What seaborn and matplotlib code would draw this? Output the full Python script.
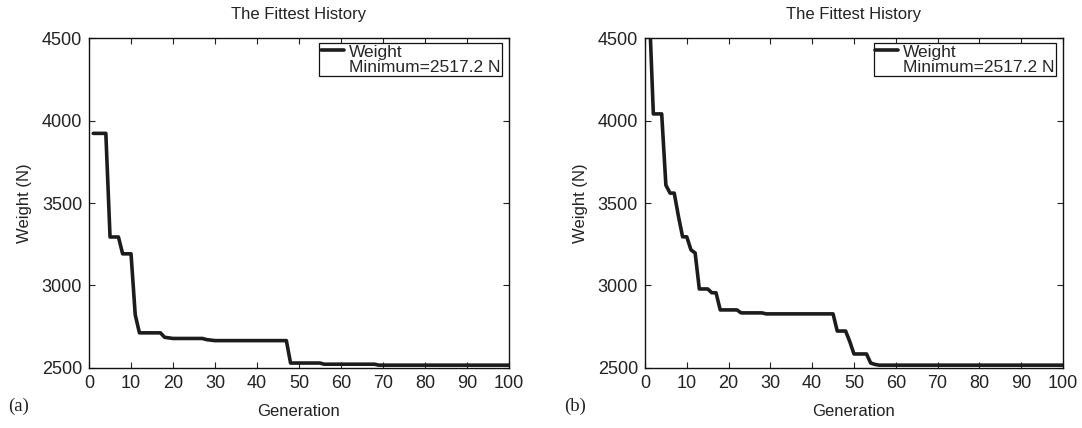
import numpy as np
import pandas as pd
import matplotlib
matplotlib.use('Agg')
import matplotlib.pyplot as plt
import seaborn as sns
from matplotlib.lines import Line2D

# fittest history (generation, weight in N)
gen_a = [1, 4, 5, 7, 8, 10, 11, 12, 17, 18, 20, 27, 28, 30, 47, 48, 55, 56, 68, 69, 100]
weight_a = [3922, 3922, 3294, 3294, 3192, 3192, 2822, 2713, 2713, 2686, 2679, 2679,
            2672, 2666, 2666, 2530, 2530, 2523, 2523, 2517.2, 2517.2]

gen_b = [1, 2, 4, 5, 6, 7, 8, 9, 10, 11, 12, 13, 15, 16, 17, 18, 22, 23, 28, 29,
         45, 46, 48, 49, 50, 53, 54, 55, 56, 100]
weight_b = [4700, 4040, 4040, 3608, 3560, 3560, 3420, 3295, 3295, 3216, 3197, 2979,
            2979, 2956, 2956, 2852, 2852, 2834, 2834, 2828, 2828, 2724, 2724, 2660,
            2585, 2585, 2530, 2522, 2517.2, 2517.2]

panels = [('(a)', gen_a, weight_a), ('(b)', gen_b, weight_b)]
x_ticks = list(range(0, 101, 10))
y_ticks = [2500, 3000, 3500, 4000, 4500]
legend_labels = ['Weight', 'Minimum=2517.2 N']

sns.set_style('ticks')
plt.rcParams['font.family'] = ['Liberation Sans', 'DejaVu Sans']
plt.rcParams['font.size'] = 12

fig = plt.figure(figsize=(10.82, 4.28), dpi=100)
line_col = '#1c1c1c'

axes_pos = [[0.0823, 0.1402, 0.388, 0.771], [0.5961, 0.1402, 0.3863, 0.771]]

for i, (tag, g, w) in enumerate(panels):
    ax = fig.add_axes(axes_pos[i])
    df = pd.DataFrame({'Generation': g, 'Weight': w})
    sns.lineplot(data=df, x='Generation', y='Weight', ax=ax, color=line_col,
                 lw=2.6, estimator=None, sort=False, legend=False)
    ax.set_xlim(0, 100)
    ax.set_ylim(2500, 4500)
    ax.set_xticks(x_ticks)
    ax.set_yticks(y_ticks)
    ax.tick_params(direction='in', top=True, right=True, length=4.5, width=0.8,
                   labelsize=13, pad=5, colors='#222222')
    for sp in ax.spines.values():
        sp.set_linewidth(1.0)
        sp.set_color('#111111')
    ax.set_title('The Fittest History', fontsize=12, pad=13.5, color='#222222')
    ax.set_xlabel('Generation', fontsize=12, labelpad=9, color='#222222')
    ax.set_ylabel('Weight (N)', fontsize=12, labelpad=7, color='#222222')

    handles = [Line2D([], [], color=line_col, lw=2.6),
               Line2D([], [], color='none')]
    leg = ax.legend(handles, legend_labels, loc='upper right',
                    bbox_to_anchor=(0.984, 0.986), borderaxespad=0,
                    fancybox=False, framealpha=1, edgecolor='#111111',
                    fontsize=12.5, handlelength=1.3, handletextpad=0.3,
                    labelspacing=0.0, borderpad=0.1)
    leg.get_frame().set_linewidth(0.9)

    fig.text(axes_pos[i][0] - 0.075, 0.04, tag, fontsize=13.5,
             family=['Liberation Serif', 'DejaVu Serif'], color='#222222')

fig.savefig('out.png', dpi=100)
